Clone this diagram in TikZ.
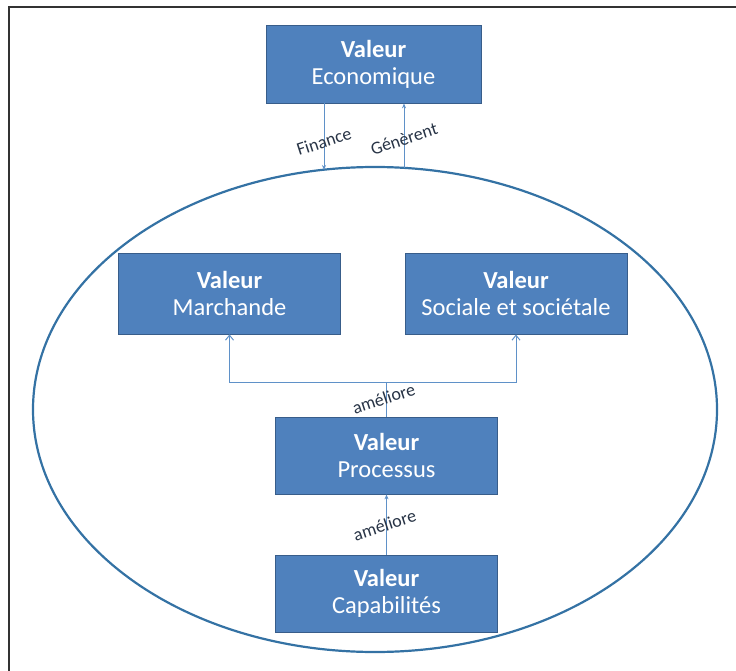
\documentclass[tikz,border=0pt]{standalone}
\usepackage{fontspec}
\setmainfont{Carlito}
\usetikzlibrary{arrows.meta,positioning,shapes.geometric}
\definecolor{boxblue}{RGB}{79,129,189}
\definecolor{boxedge}{RGB}{56,93,138}
\definecolor{ringblue}{RGB}{52,114,164}
\definecolor{linkblue}{RGB}{95,145,200}
\definecolor{lbltext}{RGB}{40,52,70}

\begin{document}
\begin{tikzpicture}[x=1pt,y=-1pt,
    valbox/.style={draw=boxedge,fill=boxblue,text=white,line width=0.8pt,
      minimum width=222pt,minimum height=79pt,inner sep=0pt,align=center,
      font=\fontsize{24.5}{27}\selectfont},
    link/.style={draw=linkblue,line width=1pt},
    lbl/.style={font=\fontsize{18}{20}\selectfont,text=lbltext,rotate=18,inner sep=0pt}]
  \useasboundingbox (0,0) rectangle (736,671);
  \draw[black!80,line width=2pt] (9,671) -- (9,7) -- (736,7);
  \node[draw=ringblue,line width=2.2pt,ellipse,minimum width=684pt,minimum height=485pt,inner sep=0pt] (ring) at (375,409.5) {};
  \node[valbox,minimum width=215pt,minimum height=78pt] (eco) at (373.5,64) {\textbf{Valeur}\\Economique};
  \node[valbox,minimum height=81pt] (march) at (229.5,293.5) {\textbf{Valeur}\\Marchande};
  \node[valbox,minimum height=81pt] (soc) at (516,293.5) {\textbf{Valeur}\\Sociale et sociétale};
  \node[valbox,minimum height=77pt] (proc) at (386.5,455.5) {\textbf{Valeur}\\Processus};
  \node[valbox,minimum height=77pt] (capa) at (386.5,593.5) {\textbf{Valeur}\\Capabilités};
  \coordinate (fin) at (324,170);
  \coordinate (gen) at (404,168);
  \coordinate (jn) at (386.5,382);
  \draw[link,-{Stealth[length=5pt,width=4pt]}] (eco.south -| fin) -- (fin) node[lbl,pos=0.57] {Finance};
  \draw[link,-{Stealth[length=5pt,width=4pt]}] (gen) -- (eco.south -| gen) node[lbl,pos=0.45] {Génèrent};
  \draw[link,-{Stealth[length=5pt,width=4pt]}] (capa.north) -- (proc.south) node[lbl,midway,xshift=-2pt] {améliore};
  \draw[link] (proc.north) -- (jn) node[lbl,pos=0.55,xshift=-3pt] {améliore};
  \draw[link,-{Straight Barb[length=5pt,width=8pt]}] (jn) -| (march.south);
  \draw[link,-{Straight Barb[length=5pt,width=8pt]}] (jn) -| (soc.south);
\end{tikzpicture}
\end{document}
